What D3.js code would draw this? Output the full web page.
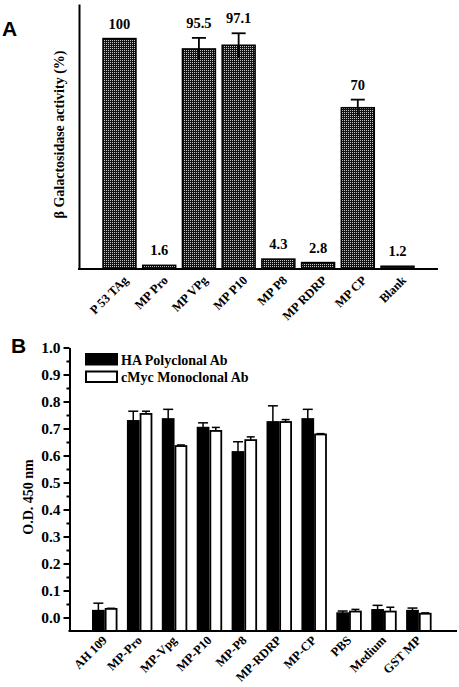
<!DOCTYPE html>
<html>
<head>
<meta charset="utf-8">
<script src="https://cdn.jsdelivr.net/npm/d3@7"></script>
<style>
  html, body { margin: 0; padding: 0; background: #fff; }
  svg { display: block; }
  text { font-family: "Liberation Serif", "Times New Roman", serif; font-weight: bold; fill: #000; }
  .panel { font-family: "Liberation Sans", Arial, sans-serif; font-weight: bold; }
</style>
</head>
<body>
<svg id="chart" width="459" height="687"></svg>
<script>
// ---------- Panel A data ----------
const aCategories = ["P 53 TAg", "MP Pro", "MP VPg", "MP P10", "MP P8", "MP RDRP", "MP CP", "Blank"];
const aValues = [100, 1.6, 95.5, 97.1, 4.3, 2.8, 70, 1.2];
const aErrors = [0, 0, 4.8, 5.2, 0, 0, 3.5, 0];
const aLabels = ["100", "1.6", "95.5", "97.1", "4.3", "2.8", "70", "1.2"];

// ---------- Panel B data ----------
const bCategories = ["AH 109", "MP-Pro", "MP-Vpg", "MP-P10", "MP-P8", "MP-RDRP", "MP-CP", "PBS", "Medium", "GST MP"];
const seriesNames = ["HA Polyclonal Ab", "cMyc Monoclonal Ab"];
const haValues = [0.025, 0.728, 0.735, 0.703, 0.613, 0.724, 0.735, 0.016, 0.028, 0.025];
const haErrors = [0.028, 0.036, 0.036, 0.018, 0.038, 0.060, 0.036, 0.008, 0.017, 0.010];
const mycValues = [0.032, 0.754, 0.635, 0.691, 0.657, 0.724, 0.678, 0.022, 0.022, 0.014];
const mycErrors = [0.002, 0.010, 0.004, 0.013, 0.012, 0.009, 0.003, 0.008, 0.016, 0.003];
const bTicks = [0.0, 0.1, 0.2, 0.3, 0.4, 0.5, 0.6, 0.7, 0.8, 0.9, 1.0];
const bMinorTicks = [0.05, 0.15, 0.25, 0.35, 0.45, 0.55, 0.65, 0.75, 0.85, 0.95];

const svg = d3.select("#chart");

// pattern for panel A bars
const defs = svg.append("defs");
const pat = defs.append("pattern").attr("id", "grid").attr("patternUnits", "userSpaceOnUse")
  .attr("width", 2).attr("height", 2);
pat.append("rect").attr("width", 2).attr("height", 2).attr("fill", "#111");
pat.append("rect").attr("width", 1).attr("height", 1).attr("fill", "#c8c8c8");

// ================= Panel A =================
const A = { left: 79, right: 438, top: 4, bottom: 269 };
const xA = d3.scaleBand().domain(aCategories).range([103, 414]).paddingInner(0.17).paddingOuter(0);
const yA = d3.scaleLinear().domain([0, 115]).range([A.bottom, A.top]);

const gA = svg.append("g");
gA.selectAll("rect.bar").data(aCategories).join("rect")
  .attr("class", "bar")
  .attr("x", d => xA(d))
  .attr("width", xA.bandwidth())
  .attr("y", (d, i) => yA(aValues[i]))
  .attr("height", (d, i) => yA(0) - yA(aValues[i]))
  .attr("fill", "url(#grid)")
  .attr("stroke", "#000").attr("stroke-width", 1.5);

// error bars A
const aErrIdx = aCategories.map((d, i) => i).filter(i => aErrors[i] > 0);
gA.selectAll("line.errv").data(aErrIdx).join("line")
  .attr("x1", i => xA(aCategories[i]) + xA.bandwidth() / 2)
  .attr("x2", i => xA(aCategories[i]) + xA.bandwidth() / 2)
  .attr("y1", i => yA(aValues[i] - aErrors[i]))
  .attr("y2", i => yA(aValues[i] + aErrors[i]))
  .attr("stroke", "#000").attr("stroke-width", 1.8);
gA.selectAll("line.errc").data(aErrIdx).join("line")
  .attr("x1", i => xA(aCategories[i]) + xA.bandwidth() / 2 - 7)
  .attr("x2", i => xA(aCategories[i]) + xA.bandwidth() / 2 + 7)
  .attr("y1", i => yA(aValues[i] + aErrors[i]))
  .attr("y2", i => yA(aValues[i] + aErrors[i]))
  .attr("stroke", "#000").attr("stroke-width", 1.8);

// value labels
gA.selectAll("text.val").data(aCategories).join("text")
  .attr("x", d => xA(d) + xA.bandwidth() / 2)
  .attr("y", (d, i) => yA(aValues[i] + aErrors[i]) - 10)
  .attr("text-anchor", "middle")
  .attr("font-size", 14.5)
  .text((d, i) => aLabels[i]);

// axes A
const axA = gA.append("g").attr("transform", `translate(${A.left},0)`)
  .call(d3.axisLeft(yA).tickValues([]).tickSizeOuter(0));
axA.select(".domain").attr("stroke-width", 2);
gA.append("line").attr("x1", A.left - 1).attr("x2", A.right)
  .attr("y1", A.bottom).attr("y2", A.bottom)
  .attr("stroke", "#000").attr("stroke-width", 2);

gA.selectAll("text.xlab").data(aCategories).join("text")
  .attr("transform", d => `translate(${xA(d) + xA.bandwidth() / 2 + 9.5},${A.bottom + 12}) rotate(-45)`)
  .attr("text-anchor", "end")
  .attr("font-size", 12.5)
  .text(d => d);

gA.append("text")
  .attr("transform", `translate(64,${(52 + 217) / 2}) rotate(-90)`)
  .attr("text-anchor", "middle")
  .attr("font-size", 14)
  .text("\u03B2 Galactosidase activity (%)");

gA.append("text").attr("class", "panel").attr("x", 2).attr("y", 36)
  .attr("font-size", 21).text("A");

// ================= Panel B =================
const B = { left: 69.5, right: 457, top: 347.5, bottom: 631 };
const xB = d3.scaleBand().domain(bCategories).range([92, 431.6]).paddingInner(0.27).paddingOuter(0);
const xSub = d3.scaleBand().domain(seriesNames).range([0, xB.bandwidth()]).padding(0);
const yB = d3.scaleLinear().domain([-0.05, 1.0]).range([B.bottom, B.top]);

const gB = svg.append("g");
const seriesData = [
  { name: seriesNames[0], values: haValues, errors: haErrors, fill: "#000", cap: 10 },
  { name: seriesNames[1], values: mycValues, errors: mycErrors, fill: "#fff", cap: 8 }
];

seriesData.forEach(s => {
  const g = gB.append("g");
  const cx = (d) => xB(d) + xSub(s.name) + xSub.bandwidth() / 2;
  g.selectAll("line.ev").data(bCategories).join("line")
    .attr("x1", cx).attr("x2", cx)
    .attr("y1", (d, i) => yB(s.values[i]))
    .attr("y2", (d, i) => yB(s.values[i] + s.errors[i]))
    .attr("stroke", "#000").attr("stroke-width", 1.5);
  g.selectAll("line.ec").data(bCategories).join("line")
    .attr("x1", d => cx(d) - s.cap / 2).attr("x2", d => cx(d) + s.cap / 2)
    .attr("y1", (d, i) => yB(s.values[i] + s.errors[i]))
    .attr("y2", (d, i) => yB(s.values[i] + s.errors[i]))
    .attr("stroke", "#000").attr("stroke-width", 1.5);
  g.selectAll("rect").data(bCategories).join("rect")
    .attr("x", d => xB(d) + xSub(s.name) + 0.9)
    .attr("width", xSub.bandwidth() - 1.8)
    .attr("y", (d, i) => yB(s.values[i]))
    .attr("height", (d, i) => yB(-0.05) - yB(s.values[i]))
    .attr("fill", s.fill)
    .attr("stroke", "#000").attr("stroke-width", 1.8);
});

// axes B
const axB = gB.append("g").attr("transform", `translate(${B.left},0)`)
  .call(d3.axisLeft(yB).tickValues(bTicks).tickFormat(d3.format(".1f")).tickSize(6).tickSizeOuter(0).tickPadding(3));
axB.select(".domain").attr("stroke-width", 2);
axB.selectAll(".tick line").attr("stroke-width", 2);
axB.selectAll(".tick text").attr("font-size", 15.5).attr("font-family", '"Liberation Serif", serif').attr("font-weight", "bold");
const axBm = gB.append("g").attr("transform", `translate(${B.left},0)`)
  .call(d3.axisLeft(yB).tickValues(bMinorTicks).tickFormat("").tickSize(3).tickSizeOuter(0));
axBm.select(".domain").remove();
axBm.selectAll(".tick line").attr("stroke-width", 2);

gB.append("line").attr("x1", B.left - 1).attr("x2", B.right)
  .attr("y1", B.bottom).attr("y2", B.bottom)
  .attr("stroke", "#000").attr("stroke-width", 2);

gB.selectAll("text.xlab").data(bCategories).join("text")
  .attr("transform", d => `translate(${xB(d) + xB.bandwidth() / 2 + 3},${B.bottom + 10}) rotate(-45)`)
  .attr("text-anchor", "end")
  .attr("font-size", 12.5)
  .text(d => d);

gB.append("text")
  .attr("transform", `translate(33,497) rotate(-90)`)
  .attr("text-anchor", "middle")
  .attr("font-size", 14)
  .text("O.D. 450 nm");

// legend
const leg = gB.append("g").attr("transform", "translate(86,354)");
seriesData.forEach((s, i) => {
  leg.append("rect").attr("x", 0).attr("y", i * 17.5).attr("width", 31).attr("height", 10.5)
    .attr("fill", s.fill).attr("stroke", "#000").attr("stroke-width", 2);
  leg.append("text").attr("x", 35).attr("y", i * 17.5 + 10.5)
    .attr("font-size", 14).text(s.name);
});

gB.append("text").attr("class", "panel").attr("x", 11).attr("y", 353)
  .attr("font-size", 21).text("B");
</script>
</body>
</html>
